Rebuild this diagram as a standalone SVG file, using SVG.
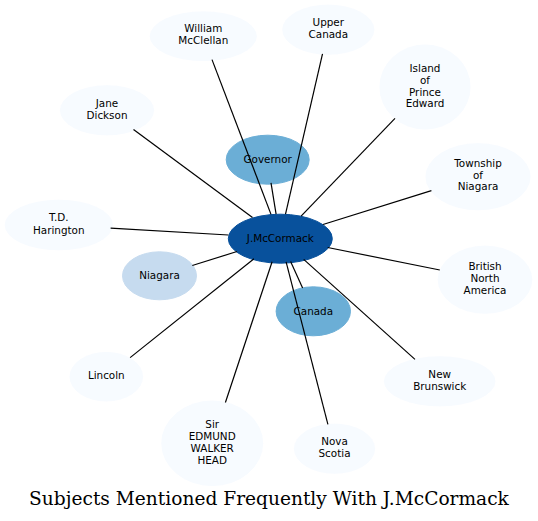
<svg xmlns="http://www.w3.org/2000/svg" width="538" height="521" viewBox="0 0 538 521">
<style>
.n0{fill:#f7fbff;stroke:#f7fbff}
.n1{fill:#c6dbef;stroke:#c6dbef}
.n2{fill:#6baed6;stroke:#6baed6}
.n3{fill:#08519c;stroke:#08519c}
text{font-family:"DejaVu Sans",sans-serif;font-size:10.4px;text-anchor:middle;fill:#000}
.title{font-family:"DejaVu Serif",serif;font-size:18.6px}
#edges line{stroke:#000;stroke-width:1.2}
</style>
<rect width="538" height="521" fill="#fff"/>
<g id="william"><ellipse class="n0" cx="203.3" cy="36.2" rx="53" ry="24.3"/><text x="203.3" y="32">William</text><text x="203.3" y="44">McClellan</text></g>
<g id="upper_canada"><ellipse class="n0" cx="328.3" cy="29.7" rx="45.5" ry="24.5"/><text x="328.3" y="26.4">Upper</text><text x="328.3" y="38.2">Canada</text></g>
<g id="island"><ellipse class="n0" cx="425" cy="87" rx="45" ry="42"/><text x="425" y="72">Island</text><text x="425" y="83.8">of</text><text x="425" y="95.8">Prince</text><text x="425" y="107.4">Edward</text></g>
<g id="jane"><ellipse class="n0" cx="107" cy="110.3" rx="46.5" ry="24.5"/><text x="107" y="107">Jane</text><text x="107" y="118.8">Dickson</text></g>
<g id="governor"><ellipse class="n2" cx="267.7" cy="159.7" rx="41.5" ry="24.5"/><text x="267.7" y="163.2">Governor</text></g>
<g id="township"><ellipse class="n0" cx="478" cy="176.7" rx="52" ry="33"/><text x="478" y="167">Township</text><text x="478" y="178.7">of</text><text x="478" y="190.4">Niagara</text></g>
<g id="td"><ellipse class="n0" cx="58.8" cy="225" rx="53.5" ry="24.7"/><text x="58.8" y="221.4">T.D.</text><text x="58.8" y="233.6">Harington</text></g>
<g id="niagara"><ellipse class="n1" cx="159.5" cy="275.8" rx="37" ry="24"/><text x="159.5" y="279">Niagara</text></g>
<g id="bna"><ellipse class="n0" cx="485" cy="279.7" rx="46.7" ry="33.5"/><text x="485" y="270.4">British</text><text x="485" y="282">North</text><text x="485" y="293.7">America</text></g>
<g id="canada"><ellipse class="n2" cx="313.3" cy="311.3" rx="37.2" ry="24.5"/><text x="313.3" y="314.8">Canada</text></g>
<g id="lincoln"><ellipse class="n0" cx="106.3" cy="376.7" rx="36.2" ry="24.2"/><text x="106.3" y="379">Lincoln</text></g>
<g id="new_brunswick"><ellipse class="n0" cx="439.7" cy="381.3" rx="55.2" ry="24.5"/><text x="439.7" y="378">New</text><text x="439.7" y="389.7">Brunswick</text></g>
<g id="sir"><ellipse class="n0" cx="212.2" cy="443.3" rx="50.4" ry="42.2"/><text x="212.2" y="427.6">Sir</text><text x="212.2" y="439.6">EDMUND</text><text x="212.2" y="451.6">WALKER</text><text x="212.2" y="463.6">HEAD</text></g>
<g id="nova_scotia"><ellipse class="n0" cx="334.5" cy="448.7" rx="40" ry="24.5"/><text x="334.5" y="444.7">Nova</text><text x="334.5" y="457">Scotia</text></g>
<g id="jmccormack"><ellipse class="n3" cx="280.3" cy="238.7" rx="52" ry="24.5"/><text x="280.3" y="242">J.McCormack</text></g>
<g id="edges">
<line x1="271" y1="214.4" x2="212" y2="59.6"/>
<line x1="285.5" y1="214.1" x2="322.5" y2="53.8"/>
<line x1="301.1" y1="216.1" x2="395" y2="118.3"/>
<line x1="252.5" y1="217.6" x2="133.5" y2="129.6"/>
<line x1="276.1" y1="214.1" x2="271" y2="182.9"/>
<line x1="323" y1="224.5" x2="431.4" y2="190.6"/>
<line x1="228.4" y1="235" x2="110.6" y2="228.1"/>
<line x1="237" y1="251.5" x2="192.3" y2="265.5"/>
<line x1="327.7" y1="247.5" x2="439.8" y2="270"/>
<line x1="290.6" y1="261.5" x2="302.6" y2="288"/>
<line x1="254" y1="258.8" x2="130.1" y2="357.6"/>
<line x1="303.7" y1="259.4" x2="415" y2="359.4"/>
<line x1="272.1" y1="261.7" x2="225.4" y2="402.5"/>
<line x1="286.1" y1="261.8" x2="327.9" y2="424.3"/>
</g>
<text class="title" x="269" y="505">Subjects Mentioned Frequently With J.McCormack</text>
</svg>
